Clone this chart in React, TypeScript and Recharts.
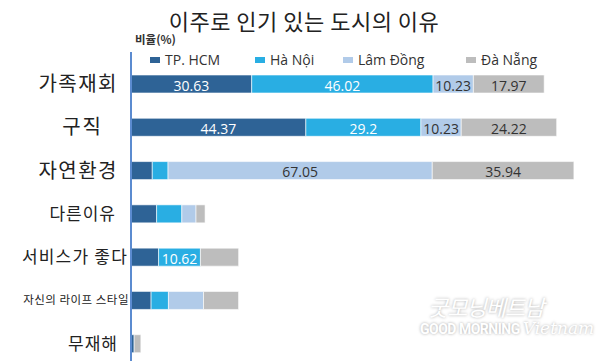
import React from "react"
import { BarChart, Bar, XAxis, YAxis, LabelList } from "recharts"

// 이주 사유 (카테고리)
const reasons = ["가족재회", "구직", "자연환경", "다른이유", "서비스가 좋다", "자신의 라이프 스타일", "무재해"]

// 도시별 비율(%)
const hcm = [30.63, 44.37, 5.4, 6.5, 7.0, 5.1, 0.8]
const hanoi = [46.02, 29.2, 4.0, 6.4, 10.62, 4.4, 0]
const lamDong = [10.23, 10.23, 67.05, 3.6, 0, 8.9, 0]
const daNang = [17.97, 24.22, 35.94, 2.3, 9.7, 8.9, 1.7]

const cities = [
  { key: "hcm", name: "TP. HCM", color: "#2E6396", text: "#ffffff" },
  { key: "hanoi", name: "Hà Nội", color: "#29AEE3", text: "#ffffff" },
  { key: "lamDong", name: "Lâm Đồng", color: "#B1CBE9", text: "#333333" },
  { key: "daNang", name: "Đà Nẵng", color: "#BDBDBD", text: "#333333" },
]

const data = reasons.map((reason, i) => ({
  reason,
  hcm: hcm[i],
  hanoi: hanoi[i],
  lamDong: lamDong[i],
  daNang: daNang[i],
}))

// 라벨별 글자 크기 / 오른쪽 끝 위치
const tickStyle: Record<string, { size: number; end: number; spacing: number }> = {
  "가족재회": { size: 20, end: 118, spacing: 1.5 },
  "구직": { size: 20, end: 103, spacing: 2 },
  "자연환경": { size: 20, end: 118, spacing: 1.5 },
  "다른이유": { size: 17, end: 116, spacing: 1 },
  "서비스가 좋다": { size: 17, end: 128, spacing: 1.2 },
  "자신의 라이프 스타일": { size: 11.5, end: 129, spacing: 0.5 },
  "무재해": { size: 17, end: 118, spacing: 1 },
}

const legendX = [150, 255, 343, 466]

const CategoryTick = ({ y, payload }: any) => {
  const s = tickStyle[payload.value] || { size: 16, end: 120, spacing: 0.5 }
  return (
    <text
      x={s.end}
      y={y - 1}
      textAnchor="end"
      dominantBaseline="central"
      fontSize={s.size}
      fill="#222"
      letterSpacing={s.spacing}
      fontFamily="'Noto Sans CJK KR', sans-serif"
    >
      {payload.value}
    </text>
  )
}

const makeLabel = (color: string) => (props: any) => {
  const { x, y, width, height, value } = props
  if (value < 10) return null
  return (
    <text
      x={x + width / 2}
      y={y + height / 2 + 1}
      textAnchor="middle"
      dominantBaseline="central"
      fontSize={14}
      fill={color}
      fontFamily="'Open Sans', sans-serif"
    >
      {value}
    </text>
  )
}

export default function App() {
  return (
    <div style={{ position: "relative", width: 600, height: 361, overflow: "hidden", background: "#fff" }}>
      <style>{"body{margin:0}"}</style>
      <div
        style={{
          position: "absolute",
          top: 4,
          left: 0,
          width: 600,
          textAlign: "center",
          fontFamily: "'Noto Sans CJK KR', sans-serif",
          fontSize: 22,
          color: "#222",
          letterSpacing: 0.5,
          paddingLeft: 4,
        }}
      >
        이주로 인기 있는 도시의 이유
      </div>
      <div
        style={{
          position: "absolute",
          top: 31,
          left: 135,
          fontFamily: "'Noto Sans CJK KR', sans-serif",
          fontSize: 11.5,
          fontWeight: 700,
          color: "#333",
        }}
      >
        비율(%)
      </div>
      {cities.map((c, i) => (
        <div
          key={c.key}
          style={{
            position: "absolute",
            top: 50,
            left: legendX[i],
            display: "flex",
            alignItems: "center",
            fontFamily: "'Open Sans', sans-serif",
            fontSize: 14,
            color: "#333",
          }}
        >
          <span style={{ display: "inline-block", width: 10, height: 6, background: c.color, marginRight: 5 }} />
          {c.name}
        </div>
      ))}
      <div style={{ position: "absolute", left: 130, top: 52, width: 2, height: 12, background: "#5B8BD0" }} />

      <div style={{ position: "absolute", top: 0, left: 0 }}>
        <BarChart
          width={600}
          height={370}
          data={data}
          layout="vertical"
          margin={{ top: 62, right: 4, left: 0, bottom: 5 }}
          barSize={18}
        >
          <XAxis type="number" domain={[0, 118]} hide />
          <YAxis
            type="category"
            dataKey="reason"
            width={131}
            tickLine={false}
            axisLine={{ stroke: "#5B8BD0", strokeWidth: 2 }}
            tick={<CategoryTick />}
            interval={0}
          />
          {cities.map((c) => (
            <Bar
              key={c.key}
              dataKey={c.key}
              name={c.name}
              stackId="a"
              fill={c.color}
              stroke="#ffffff"
              strokeWidth={0.6}
              isAnimationActive={false}
            >
              <LabelList dataKey={c.key} content={makeLabel(c.text)} />
            </Bar>
          ))}
        </BarChart>
      </div>

      <div
        style={{
          position: "absolute",
          left: 420,
          top: 290,
          color: "#fff",
          textShadow: "0 0 3px rgba(0,0,0,0.35)",
          pointerEvents: "none",
        }}
      >
        <div style={{ fontFamily: "'Noto Sans CJK KR', sans-serif", fontSize: 22, fontStyle: "italic", marginLeft: 8, letterSpacing: -1 }}>
          굿모닝베트남
        </div>
        <div style={{ display: "flex", alignItems: "baseline", marginTop: -4 }}>
          <span style={{ fontFamily: "Roboto, sans-serif", fontWeight: 700, fontSize: 14, letterSpacing: -0.5 }}>
            GOOD MORNING
          </span>
          <span style={{ fontFamily: "'DejaVu Serif', serif", fontStyle: "italic", fontSize: 17, marginLeft: 3 }}>
            Vietnam
          </span>
        </div>
      </div>
    </div>
  )
}
